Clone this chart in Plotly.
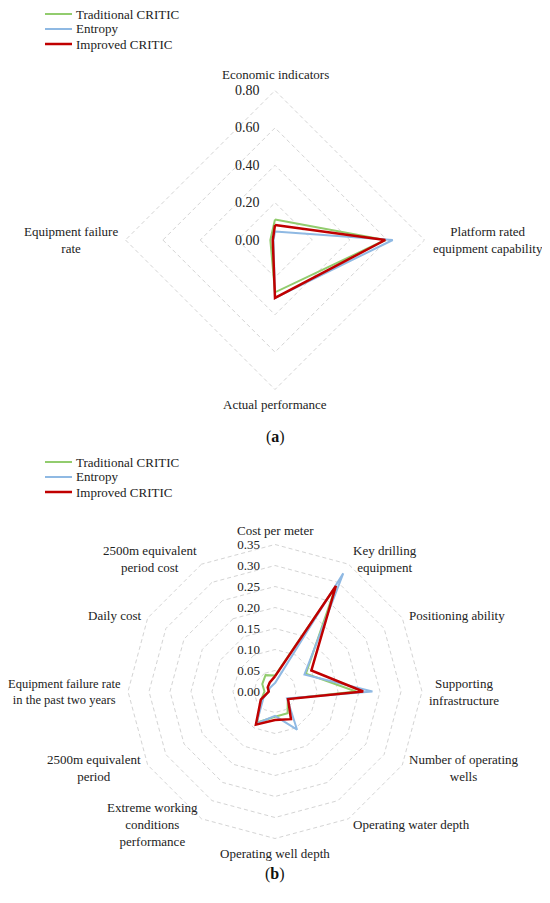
import math
import plotly.graph_objects as go

# ---- data: panel (a) ----
cats_a = ["Economic indicators", "Platform rated<br>equipment capability",
          "Actual performance", "Equipment failure<br>rate"]
trad_a = [0.11, 0.59, 0.28, 0.025]
entr_a = [0.045, 0.63, 0.31, 0.008]
impr_a = [0.08, 0.59, 0.31, 0.012]

# ---- data: panel (b) ----
cats_b = ["Cost per meter", "Key drilling<br>equipment", "Positioning ability",
          "Supporting<br>infrastructure", "Number of operating<br>wells",
          "Operating water depth", "Operating well depth",
          "Extreme working<br>conditions<br>performance",
          "2500m equivalent<br>period", "Equipment failure rate<br>in the past two years",
          "Daily cost", "2500m equivalent<br>period cost"]
trad_b = [0.038, 0.29, 0.085, 0.193, 0.035, 0.06, 0.06, 0.085, 0.038, 0.025, 0.035, 0.045]
entr_b = [0.02, 0.325, 0.081, 0.232, 0.033, 0.105, 0.058, 0.088, 0.032, 0.015, 0.015, 0.015]
impr_b = [0.036, 0.29, 0.10, 0.21, 0.036, 0.076, 0.068, 0.091, 0.039, 0.015, 0.02, 0.025]

names = ["Traditional CRITIC", "Entropy", "Improved CRITIC"]
colors = ["#92CC6E", "#8FB9E3", "#C00000"]
widths = [2, 2, 2.5]
FONT = "Liberation Serif"
TXT = "#222"

# page body has an 8px margin, so the figure is 16px smaller than the window
W, H = 534, 887
PAD = 1.04  # range head-room so the outermost dashed ring gets drawn


def closed(v):
    return list(v) + [v[0]]


def px(x):
    return x / W


def py(y):
    return 1 - y / H


fig = go.Figure()

for name, vals, col, w in zip(names, [trad_a, entr_a, impr_a], colors, widths):
    fig.add_trace(go.Scatterpolar(
        r=closed(vals), theta=closed(cats_a), mode="lines", name=name,
        line=dict(color=col, width=w), subplot="polar", showlegend=False))

for name, vals, col, w in zip(names, [trad_b, entr_b, impr_b], colors, widths):
    fig.add_trace(go.Scatterpolar(
        r=closed(vals), theta=closed(cats_b), mode="lines", name=name,
        line=dict(color=col, width=w), subplot="polar2", showlegend=False))


def polar_style(cx, cy, rad, rmax, dtick, tsize):
    rad = rad * PAD
    return dict(
        domain=dict(x=[px(cx - rad), px(cx + rad)], y=[py(cy + rad), py(cy - rad)]),
        bgcolor="white",
        gridshape="linear",
        radialaxis=dict(range=[0, rmax * PAD],
                        tickvals=[dtick * i for i in range(round(rmax / dtick) + 1)],
                        tickformat=".2f",
                        angle=90, tickangle=90, side="counterclockwise",
                        showline=False, ticks="outside", ticklen=10,
                        tickcolor="rgba(0,0,0,0)",
                        gridcolor="#D4D4D4", griddash="4px,3px", gridwidth=1,
                        tickfont=dict(family=FONT, size=tsize, color=TXT)),
        angularaxis=dict(rotation=90, direction="clockwise", showgrid=False,
                         showline=False, ticks="", showticklabels=False),
    )


def spoke_labels(cats, cx, cy, rad, gap, size, sizes=None):
    # category names set just outside each spoke end, centred like Excel does
    out = []
    n = len(cats)
    for i, c in enumerate(cats):
        a = math.radians(90 - 360 * i / n)
        ca, sa = math.cos(a), math.sin(a)
        x, y = cx + (rad + gap) * ca, cy - (rad + gap) * sa
        if abs(ca) < 0.1:
            xa, ya = "center", ("bottom" if sa > 0 else "top")
        else:
            xa, ya = ("left" if ca > 0 else "right"), "middle"
        fs = (sizes or {}).get(i, size)
        out.append(dict(text=c, x=px(x), y=py(y), xref="paper", yref="paper",
                        xanchor=xa, yanchor=ya, align="center", showarrow=False,
                        borderpad=0, font=dict(family=FONT, size=fs, color=TXT)))
    return out


# hand-made legends (one per panel), placed like the original
shapes, annots = [], []
for top in (6, 454):
    for i, (name, col, w) in enumerate(zip(names, colors, widths)):
        y = top + 15 * i
        shapes.append(dict(type="line", xref="paper", yref="paper",
                           x0=px(37), x1=px(64), y0=py(y), y1=py(y),
                           line=dict(color=col, width=w)))
        annots.append(dict(text=name, x=px(67), y=py(y), xref="paper", yref="paper",
                           xanchor="left", yanchor="middle", showarrow=False, borderpad=0,
                           font=dict(family=FONT, size=13, color=TXT)))

annots += spoke_labels(cats_a, 267, 232, 149.5, 7, 13)
annots += spoke_labels(cats_b, 267, 683.5, 147, 6, 13, sizes={9: 12.5})

annots.append(dict(text="(<b>a</b>)", x=px(267), y=py(429), xref="paper", yref="paper",
                   showarrow=False, font=dict(family=FONT, size=16, color="#111")))
annots.append(dict(text="(<b>b</b>)", x=px(267), y=py(877), xref="paper", yref="paper",
                   showarrow=False, font=dict(family=FONT, size=16, color="#111")))

fig.update_layout(
    width=W, height=H,
    margin=dict(l=0, r=0, t=0, b=0),
    paper_bgcolor="white",
    font=dict(family=FONT, size=13, color=TXT),
    polar=polar_style(267, 232, 149.5, 0.8, 0.2, 14),
    polar2=polar_style(267, 683.5, 147, 0.35, 0.05, 13),
    shapes=shapes,
    annotations=annots,
)

fig.write_html("out.html")
